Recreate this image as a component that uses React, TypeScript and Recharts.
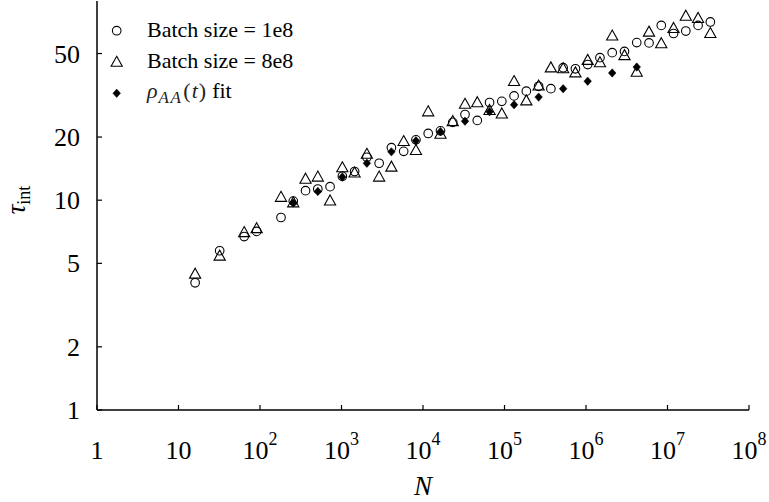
import React from 'react';
import { ScatterChart, Scatter, XAxis, YAxis, Legend } from 'recharts';

// N values (system sizes)
const nValues = [
  16, 32, 64, 91, 181, 256, 362, 512, 724, 1024,
  1448, 2048, 2896, 4096, 5793, 8192, 11585, 16384, 23170, 32768,
  46341, 65536, 92682, 131072, 185364, 262144, 370728, 524288, 741455, 1048576,
  1482910, 2097152, 2965821, 4194304, 5931642, 8388608, 11863283, 16777216, 23726566, 33554432,
];

// tau_int, batch size = 1e8 (circles)
const tauBatch1e8 = [
  4.04, 5.74, 6.71, 7.1, 8.27, 9.9, 11.1, 11.3, 11.6, 13.0,
  13.7, 16.0, 15.0, 17.8, 17.1, 19.4, 20.8, 21.4, 23.5, 25.6,
  24.0, 29.2, 29.6, 31.4, 33.1, 34.9, 34.0, 42.8, 42.3, 44.3,
  47.8, 50.5, 51.2, 56.4, 56.2, 68.1, 62.3, 64.0, 68.1, 70.7,
];

// tau_int, batch size = 8e8 (triangles)
const tauBatch8e8 = [
  4.48, 5.46, 7.07, 7.38, 10.41, 9.8, 12.7, 13.0, 10.0, 14.4,
  13.6, 16.7, 13.0, 14.5, 19.2, 17.4, 26.6, 20.8, 23.9, 28.9,
  29.4, 27.0, 26.0, 37.1, 30.0, 35.3, 43.1, 42.7, 40.8, 46.8,
  45.6, 61.1, 49.3, 41.1, 63.8, 56.2, 66.4, 76.0, 74.1, 62.8,
];

// rho_AA(t) fit (diamonds)
const fitN = [256, 512, 1024, 2048, 4096, 8192, 16384, 32768, 65536, 131072, 262144, 524288, 1048576, 2097152, 4194304];
const fitTau = [9.7, 11.0, 12.9, 15.0, 17.0, 19.2, 21.2, 23.8, 26.4, 28.5, 31.0, 34.0, 36.9, 40.4, 43.1];

const xTicks = [1, 10, 100, 1e3, 1e4, 1e5, 1e6, 1e7, 1e8];
const yTicks = [1, 2, 5, 10, 20, 50];

const seriesNames = ['Batch size = 1e8', 'Batch size = 8e8', 'ρAA(t) fit'];

const data1 = nValues.map((n, i) => ({ n, tau: tauBatch1e8[i] }));
const data2 = nValues.map((n, i) => ({ n, tau: tauBatch8e8[i] }));
const data3 = fitN.map((n, i) => ({ n, tau: fitTau[i] }));

const FONT = 'Liberation Serif';
const fs = (size: number, italic = false): React.CSSProperties => ({
  fontFamily: FONT,
  fontSize: size,
  fontStyle: italic ? 'italic' : 'normal',
});

const circleShape = (p: any) => (
  <circle cx={p.cx} cy={p.cy} r={4.3} fill="none" stroke="#000" strokeWidth={1.1} />
);
const triangleShape = (p: any) => (
  <path
    d={`M${p.cx},${p.cy - 5.2} L${p.cx + 5.6},${p.cy + 4.8} L${p.cx - 5.6},${p.cy + 4.8} Z`}
    fill="none"
    stroke="#000"
    strokeWidth={1.1}
  />
);
const diamondShape = (p: any) => (
  <path
    d={`M${p.cx},${p.cy - 4.2} L${p.cx + 3.8},${p.cy} L${p.cx},${p.cy + 4.2} L${p.cx - 3.8},${p.cy} Z`}
    fill="#000"
    stroke="#000"
    strokeWidth={0.5}
  />
);

const XTick = (props: any) => {
  const { x, y, payload } = props;
  const e = Math.round(Math.log10(payload.value));
  return (
    <g>
      <line x1={x} y1={y} x2={x} y2={y - 5} stroke="#000" strokeWidth={1.2} />
      <text x={x} y={y + 49} textAnchor="middle" style={fs(26)} fill="#000">
        {e === 0 ? '1' : e === 1 ? '10' : (
          <>
            <tspan>10</tspan>
            <tspan dy={-14} style={fs(18)}>{e}</tspan>
          </>
        )}
      </text>
    </g>
  );
};

const YTick = (props: any) => {
  const { x, y, payload } = props;
  return (
    <g>
      <line x1={x} y1={y} x2={x + 5} y2={y} stroke="#000" strokeWidth={1.2} />
      <text x={x - 17} y={y + 9} textAnchor="end" style={fs(26)} fill="#000">
        {payload.value}
      </text>
    </g>
  );
};

const XLabel = (props: any) => {
  const vb = props.viewBox || { x: 97, y: 410, width: 652 };
  return (
    <text x={vb.x + vb.width / 2} y={vb.y + 85} textAnchor="middle" style={fs(27, true)} fill="#000">
      N
    </text>
  );
};

const YLabel = () => (
  <text x={25} y={200} transform="rotate(-90, 25, 200)" textAnchor="middle" style={fs(27)} fill="#000">
    <tspan style={fs(27, true)}>τ</tspan>
    <tspan style={fs(18)} dy={5}>int</tspan>
  </text>
);

const legendMarkers = [
  (cx: number, cy: number) => circleShape({ cx, cy }),
  (cx: number, cy: number) => triangleShape({ cx, cy }),
  (cx: number, cy: number) => diamondShape({ cx, cy }),
];

const renderLegend = () => (
  <svg width={300} height={110} style={{ display: 'block', overflow: 'visible' }}>
    {seriesNames.map((name, i) => {
      const cy = [30.7, 61.5, 93.3][i];
      const base = [37.3, 68.3, 98][i];
      return (
        <g key={name}>
          {legendMarkers[i](116.7, cy)}
          {i < 2 ? (
            <text x={147} y={base} style={fs(22)} fill="#000">{name}</text>
          ) : (
            <text x={147} y={base} style={fs(22)} fill="#000">
              <tspan style={fs(22, true)} fill="#222">ρ</tspan>
              <tspan style={{ ...fs(17, true), letterSpacing: 1.5 }} dy={5} dx={1} fill="#222">AA</tspan>
              <tspan dy={-5} dx={1} fill="#222">(</tspan>
              <tspan style={fs(22, true)} dx={1} fill="#222">t</tspan>
              <tspan dx={1} fill="#222">)</tspan>
              <tspan dx={6}>fit</tspan>
            </text>
          )}
        </g>
      );
    })}
  </svg>
);

export default function App() {
  return (
    <div style={{ position: 'absolute', left: 0, top: 0, width: 769, height: 502, background: '#fff' }}>
      <ScatterChart width={769} height={502} margin={{ top: 1, right: 20, bottom: 0, left: 0 }}>
        <XAxis xAxisId="main" dataKey="n" type="number" scale="log" domain={[1, 1e8]} ticks={xTicks} interval={0} allowDataOverflow tick={<XTick />} tickSize={0} tickMargin={0} tickLine={false} height={92} axisLine={{ stroke: '#000', strokeWidth: 1.5 }} label={<XLabel />} />
        <XAxis xAxisId="top" orientation="top" dataKey="n" type="number" scale="log" domain={[1, 1e8]} ticks={[]} tick={false} tickLine={false} height={0} allowDataOverflow axisLine={{ stroke: '#000', strokeWidth: 1.5 }} />
        <YAxis yAxisId="main" dataKey="tau" type="number" scale="log" domain={[1, 89]} ticks={yTicks} interval={0} allowDataOverflow tick={<YTick />} tickSize={0} tickMargin={0} tickLine={false} width={97} axisLine={{ stroke: '#000', strokeWidth: 1.5 }} label={<YLabel />} />
        <YAxis yAxisId="right" orientation="right" dataKey="tau" type="number" scale="log" domain={[1, 89]} ticks={[]} tick={false} tickLine={false} width={0} allowDataOverflow axisLine={{ stroke: '#000', strokeWidth: 1.5 }} />
        <Legend layout="horizontal" align="center" verticalAlign="middle" content={renderLegend} wrapperStyle={{ position: 'absolute', left: 0, top: 0, width: 300, height: 110, pointerEvents: 'none' }} />
        <Scatter name={seriesNames[0]} data={data1} xAxisId="main" yAxisId="main" shape={circleShape} isAnimationActive={false} />
        <Scatter name={seriesNames[1]} data={data2} xAxisId="main" yAxisId="main" shape={triangleShape} isAnimationActive={false} />
        <Scatter name={seriesNames[2]} data={data3} xAxisId="main" yAxisId="main" shape={diamondShape} isAnimationActive={false} />
      </ScatterChart>
    </div>
  );
}
